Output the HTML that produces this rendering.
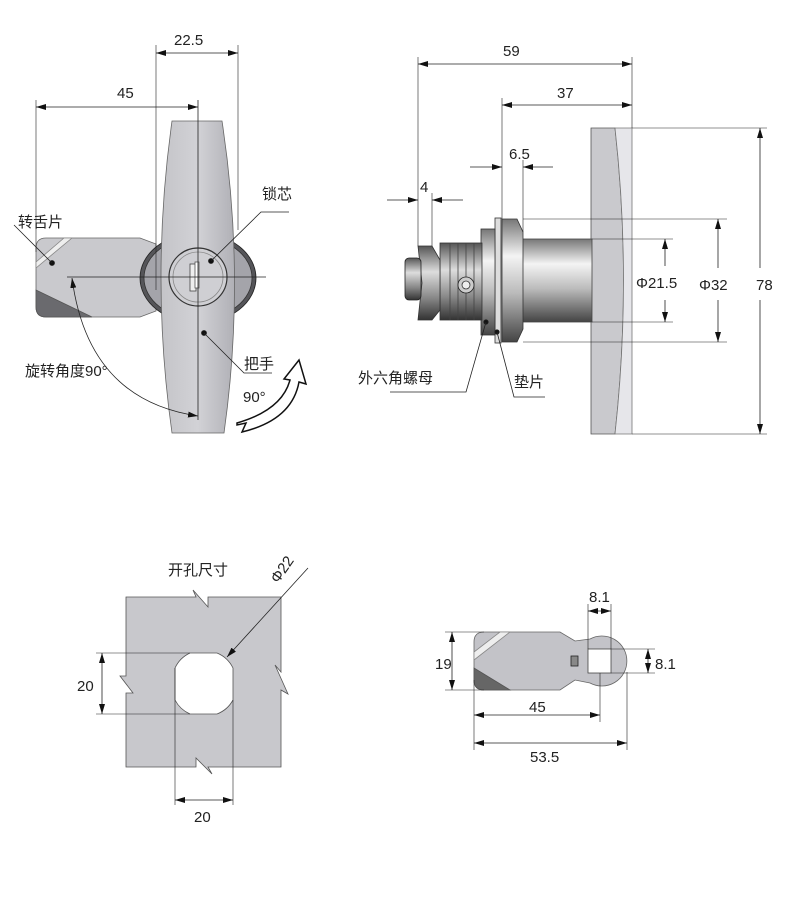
<!DOCTYPE html>
<html><head><meta charset="utf-8">
<style>
html,body{margin:0;padding:0;background:#fff;}
svg{display:block;}
text{font-family:"Liberation Sans","Noto Sans CJK SC",sans-serif;fill:#222;}
</style></head>
<body>
<svg width="788" height="900" viewBox="0 0 788 900" xmlns="http://www.w3.org/2000/svg">
<defs>
<marker id="a" viewBox="0 0 10 6" refX="10" refY="3" markerWidth="10" markerHeight="6" orient="auto-start-reverse" markerUnits="userSpaceOnUse"><path d="M0,0L10,3L0,6z" fill="#111"/></marker>
<linearGradient id="cyl" x1="0" y1="0" x2="0" y2="1">
<stop offset="0" stop-color="#777"/><stop offset="0.3" stop-color="#f4f4f4"/><stop offset="0.6" stop-color="#bbb"/><stop offset="1" stop-color="#444"/></linearGradient>
<linearGradient id="thr" x1="0" y1="0" x2="0" y2="1">
<stop offset="0" stop-color="#555"/><stop offset="0.35" stop-color="#ddd"/><stop offset="0.7" stop-color="#888"/><stop offset="1" stop-color="#333"/></linearGradient>
<linearGradient id="hdl" x1="0" y1="0" x2="1" y2="0">
<stop offset="0" stop-color="#c4c4c8"/><stop offset="0.5" stop-color="#d2d2d6"/><stop offset="1" stop-color="#b0b0b6"/></linearGradient>
</defs>
<g stroke="#222" stroke-width="0.8" fill="none">

<path d="M46,238 L140,238 L156,244 L156,311 L140,317 L46,317 Q36,317 36,307 L36,248 Q36,238 46,238z" fill="#c9c9cd" stroke="#666"/>
<path d="M36,262 L64,238 L72,238 L36,268z" fill="#eee" stroke="#888"/>
<path d="M36,290 L36,307 Q36,317 46,317 L92,317z" fill="#6a6a6e" stroke="#555"/>
<ellipse cx="198" cy="278" rx="58" ry="45" fill="#555559" stroke="#222"/>
<ellipse cx="198" cy="278" rx="54" ry="41" fill="#a4a4aa" stroke="#333"/>
<path d="M172,121 L222,121 Q246,278 224,433 L172,433 Q150,278 172,121z" fill="url(#hdl)" stroke="#666"/>
<circle cx="198" cy="277" r="29" fill="#cfcfd3" stroke="#333" stroke-width="1.2"/>
<circle cx="198" cy="277" r="25" fill="none" stroke="#888"/>
<rect x="190" y="264" width="6" height="27" fill="#eee" stroke="#444"/>
<rect x="195" y="262" width="4" height="26" fill="#fff" stroke="#555"/>
<line x1="67" y1="277" x2="266" y2="277"/>
<line x1="198" y1="100" x2="198" y2="420"/>
<line x1="156" y1="45" x2="156" y2="290" stroke-width="0.6"/>
<line x1="238" y1="45" x2="238" y2="230" stroke-width="0.6"/>
<line x1="156" y1="53" x2="238" y2="53" marker-start="url(#a)" marker-end="url(#a)"/>
<line x1="36" y1="100" x2="36" y2="252" stroke-width="0.6"/>
<line x1="36" y1="107" x2="198" y2="107" marker-start="url(#a)" marker-end="url(#a)"/>
<path d="M72,278 Q88,400 198,416" marker-start="url(#a)" marker-end="url(#a)"/>
<circle cx="52" cy="263" r="2.5" fill="#111"/>
<line x1="52" y1="263" x2="14" y2="225"/>
<circle cx="211" cy="261" r="2.5" fill="#111"/>
<polyline points="211,261 261,212 289,212"/>
<circle cx="204" cy="333" r="2.5" fill="#111"/>
<polyline points="204,333 244,373 272,373"/>
<path d="M237,423 Q282,410 290,380 L284,379 L299,360 L306,384 L299,382 Q292,420 242,432 L246,423 L237,425z" fill="#fff" stroke="#111" stroke-width="1.5"/>

<path d="M591,128 L615,128 Q632,280 615,434 L591,434z" fill="#c9c9cd" stroke="#555"/>
<path d="M615,128 L632,128 L632,434 L615,434 Q632,280 615,128z" fill="#e6e6ea" stroke="#777"/>
<rect x="522" y="239" width="70" height="83" fill="url(#cyl)" stroke="#444"/>
<path d="M502,219 L517,219 L523,232 L523,329 L517,342 L502,342z" fill="url(#cyl)" stroke="#333"/>
<rect x="495" y="218" width="6" height="125" fill="#ddd" stroke="#333"/>
<rect x="481" y="229" width="14" height="106" fill="url(#cyl)" stroke="#333"/>
<rect x="440" y="243" width="42" height="77" fill="url(#thr)" stroke="#333"/>
<path d="M450,243 L450,320 M458,243 L458,320 M466,243 L466,320 M474,243 L474,320" stroke="#444"/>
<circle cx="466" cy="285" r="8" fill="#ccc" stroke="#222"/>
<circle cx="466" cy="285" r="4" fill="#eee" stroke="#333"/>
<path d="M418,246 L432,246 L440,260 L440,310 L432,320 L418,320 L422,283z" fill="url(#thr)" stroke="#333"/>
<rect x="405" y="258" width="16" height="42" rx="4" fill="url(#thr)" stroke="#222"/>
<line x1="418" y1="57" x2="418" y2="246" stroke-width="0.6"/>
<line x1="632" y1="57" x2="632" y2="128" stroke-width="0.6"/>
<line x1="418" y1="64" x2="632" y2="64" marker-start="url(#a)" marker-end="url(#a)"/>
<line x1="502" y1="98" x2="502" y2="219" stroke-width="0.6"/>
<line x1="502" y1="105" x2="632" y2="105" marker-start="url(#a)" marker-end="url(#a)"/>
<line x1="523" y1="160" x2="523" y2="232" stroke-width="0.6"/>
<line x1="470" y1="167" x2="502" y2="167" marker-end="url(#a)"/>
<line x1="553" y1="167" x2="523" y2="167" marker-end="url(#a)"/>
<line x1="432" y1="193" x2="432" y2="246" stroke-width="0.6"/>
<line x1="387" y1="200" x2="418" y2="200" marker-end="url(#a)"/>
<line x1="463" y1="200" x2="432" y2="200" marker-end="url(#a)"/>
<line x1="592" y1="239" x2="673" y2="239" stroke-width="0.6"/>
<line x1="592" y1="322" x2="673" y2="322" stroke-width="0.6"/>
<line x1="665" y1="239" x2="665" y2="266" marker-start="url(#a)"/>
<line x1="665" y1="300" x2="665" y2="322" marker-end="url(#a)"/>
<line x1="523" y1="219" x2="727" y2="219" stroke-width="0.6"/>
<line x1="523" y1="342" x2="727" y2="342" stroke-width="0.6"/>
<line x1="718" y1="219" x2="718" y2="268" marker-start="url(#a)"/>
<line x1="718" y1="300" x2="718" y2="342" marker-end="url(#a)"/>
<line x1="632" y1="128" x2="767" y2="128" stroke-width="0.6"/>
<line x1="632" y1="434" x2="767" y2="434" stroke-width="0.6"/>
<line x1="760" y1="128" x2="760" y2="268" marker-start="url(#a)"/>
<line x1="760" y1="300" x2="760" y2="434" marker-end="url(#a)"/>
<circle cx="486" cy="322" r="2.2" fill="#111"/>
<polyline points="486,322 466,392 390,392"/>
<circle cx="497" cy="332" r="2.2" fill="#111"/>
<polyline points="497,332 514,397 545,397"/>

<path d="M126,597 L196,597 L193,590 L208,607 L208,597 L281,597 L281,672 L275,665 L288,694 L281,690 L281,767 L208,767 L212,774 L196,758 L196,767 L126,767 L126,693 L133,693 L120,676 L126,676z" fill="#c8c8cc" stroke="#555"/>
<path d="M190,653 L217,653 A31,31 0 0 1 233,668 L233,700 A31,31 0 0 1 217,714 L190,714 A31,31 0 0 1 175,700 L175,668 A31,31 0 0 1 190,653z" fill="#fff" stroke="#555"/>
<line x1="96" y1="653" x2="190" y2="653" stroke-width="0.6"/>
<line x1="96" y1="714" x2="190" y2="714" stroke-width="0.6"/>
<line x1="102" y1="653" x2="102" y2="714" marker-start="url(#a)" marker-end="url(#a)"/>
<line x1="175" y1="668" x2="175" y2="805" stroke-width="0.6"/>
<line x1="233" y1="700" x2="233" y2="805" stroke-width="0.6"/>
<line x1="175" y1="800" x2="233" y2="800" marker-start="url(#a)" marker-end="url(#a)"/>
<line x1="308" y1="568" x2="227" y2="657" marker-end="url(#a)"/>

<path d="M484,632 L560,632 L575,641 L590,639 A25,25 0 1 1 590,683 L575,680 L560,690 L484,690 Q474,690 474,680 L474,642 Q474,632 484,632z" fill="#c3c3c8" stroke="#666"/>
<path d="M474,652 L500,632 L510,632 L474,660z" fill="#eee" stroke="#888"/>
<path d="M474,668 L474,680 Q474,690 484,690 L510,690z" fill="#666" stroke="#555"/>
<rect x="588" y="649" width="23" height="24" fill="#fff" stroke="#444"/>
<rect x="571" y="656" width="7" height="10" fill="#888" stroke="#222"/>
<line x1="588" y1="604" x2="588" y2="649" stroke-width="0.6"/>
<line x1="611" y1="604" x2="611" y2="649" stroke-width="0.6"/>
<line x1="588" y1="611" x2="611" y2="611" marker-start="url(#a)" marker-end="url(#a)"/>
<line x1="611" y1="649" x2="655" y2="649" stroke-width="0.6"/>
<line x1="611" y1="673" x2="655" y2="673" stroke-width="0.6"/>
<line x1="648" y1="649" x2="648" y2="673" marker-start="url(#a)" marker-end="url(#a)"/>
<line x1="445" y1="632" x2="484" y2="632" stroke-width="0.6"/>
<line x1="445" y1="690" x2="484" y2="690" stroke-width="0.6"/>
<line x1="452" y1="632" x2="452" y2="690" marker-start="url(#a)" marker-end="url(#a)"/>
<line x1="474" y1="680" x2="474" y2="750" stroke-width="0.6"/>
<line x1="600" y1="673" x2="600" y2="722" stroke-width="0.6"/>
<line x1="627" y1="672" x2="627" y2="750" stroke-width="0.6"/>
<line x1="474" y1="715" x2="600" y2="715" marker-start="url(#a)" marker-end="url(#a)"/>
<line x1="474" y1="743" x2="627" y2="743" marker-start="url(#a)" marker-end="url(#a)"/>
</g>

<g font-size="15">
<text x="174" y="45">22.5</text>
<text x="117" y="98">45</text>
<text x="262" y="199">锁芯</text>
<text x="18" y="227">转舌片</text>
<text x="25" y="376">旋转角度90°</text>
<text x="244" y="369">把手</text>
<text x="243" y="402">90°</text>
<text x="503" y="56">59</text>
<text x="557" y="98">37</text>
<text x="509" y="159">6.5</text>
<text x="420" y="192">4</text>
<text x="636" y="288">Φ21.5</text>
<text x="699" y="290">Φ32</text>
<text x="756" y="290">78</text>
<text x="358" y="383">外六角螺母</text>
<text x="514" y="387">垫片</text>
<text x="168" y="575">开孔尺寸</text>
<text x="278" y="584" transform="rotate(-55 278 584)">Φ22</text>
<text x="77" y="691">20</text>
<text x="194" y="822">20</text>
<text x="589" y="602">8.1</text>
<text x="655" y="669">8.1</text>
<text x="435" y="669">19</text>
<text x="529" y="712">45</text>
<text x="530" y="762">53.5</text>
</g>
</svg>
</body></html>
